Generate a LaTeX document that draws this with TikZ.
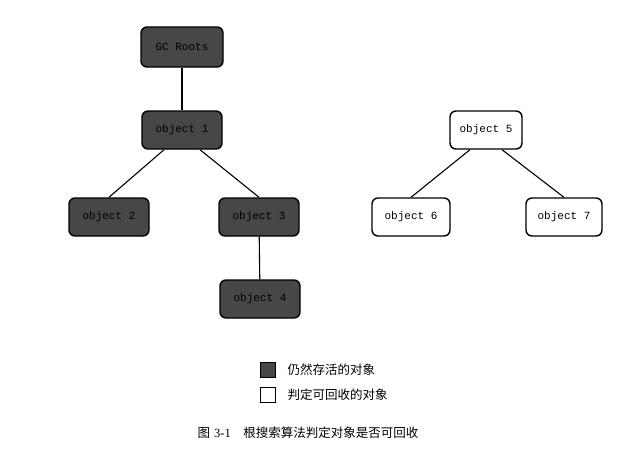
\documentclass[tikz,border=0pt]{standalone}
\usepackage{fontspec}
\newfontfamily\cjk{Noto Sans CJK SC}
\newfontfamily\monof{Liberation Mono}
\newfontfamily\serf{Liberation Serif}
\begin{document}
\begin{tikzpicture}[x=1pt,y=-1pt,
  obj/.style={draw=black,line width=1.4pt,rounded corners=6pt,minimum width=80pt,minimum height=38pt,font=\monof\fontsize{11}{12}\selectfont},
  live/.style={obj,fill=black!72},
  dead/.style={obj,fill=white},
  edge/.style={line width=1.1pt}]
\useasboundingbox (0,0) rectangle (640,455);
\node[live,minimum width=82pt,minimum height=40pt] (gc) at (182,47) {GC Roots};
\node[live] (o1) at (182,130) {object 1};
\node[live] (o2) at (109,217) {object 2};
\node[live] (o3) at (259,217) {object 3};
\node[live] (o4) at (260,299) {object 4};
\node[dead,minimum width=72pt] (o5) at (486,130) {object 5};
\node[dead,minimum width=78pt] (o6) at (411,217) {object 6};
\node[dead,minimum width=76pt] (o7) at (564,217) {object 7};
\draw[edge] (gc) -- (o1);
\draw[edge] (o1.south) ++(-18,0) coordinate (a) -- (o2.north);
\draw[edge] (o1.south) ++(18,0) coordinate (b) -- (o3.north);
\draw[edge] (o3) -- (o4);
\draw[edge] (o5.south) ++(-16,0) coordinate (c) -- (o6.north);
\draw[edge] (o5.south) ++(16,0) coordinate (d) -- (o7.north);
\node[draw,line width=0.9pt,fill=black!72,minimum size=15pt,inner sep=0pt] (l1) at (268,370) {};
\node[draw,line width=0.9pt,fill=white,minimum size=15pt,inner sep=0pt] (l2) at (268,395) {};
\node[anchor=west,font=\cjk\fontsize{12.5}{14}\selectfont] (t1) at (284,370) {仍然存活的对象};
\node[anchor=west,font=\cjk\fontsize{12.5}{14}\selectfont] (t2) at (284,395) {判定可回收的对象};
\node[anchor=west,font=\fontsize{12.5}{14}\selectfont] (cap) at (194,433) {{\cjk 图} {\serf 3-1}\quad {\cjk 根搜索算法判定对象是否可回收}};
\end{tikzpicture}
\end{document}
